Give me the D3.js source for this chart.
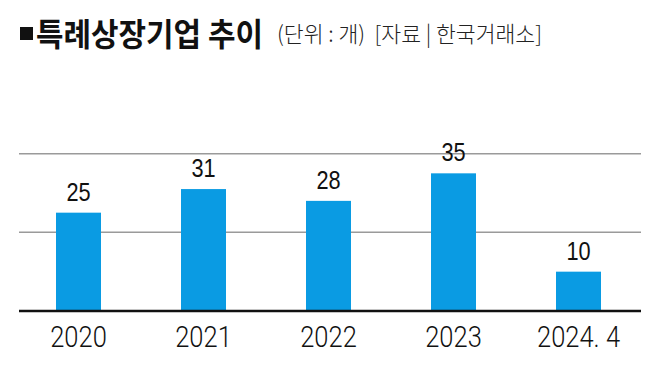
<!DOCTYPE html>
<html>
<head>
<meta charset="utf-8">
<script src="https://cdn.jsdelivr.net/npm/d3@7"></script>
<style>
  body { margin: 0; background: #fff; }
  svg { display: block; }
</style>
</head>
<body>
<div id="viz"></div>
<script>
var years = ["2020", "2021", "2022", "2023", "2024. 4"];
var counts = [25, 31, 28, 35, 10];
var gridValues = [20, 40];

var width = 658, height = 379;

var svg = d3.select("#viz")
            .append("svg")
            .attr("width", width)
            .attr("height", height);

// squeeze a text element horizontally (the original uses a condensed face)
function condense(sel, k) {
  sel.each(function() {
    var w = this.getComputedTextLength();
    d3.select(this)
      .attr("textLength", w * k)
      .attr("lengthAdjust", "spacingAndGlyphs");
  });
}

// title
svg.append("rect")
    .attr("x", 20)
    .attr("y", 27)
    .attr("width", 13)
    .attr("height", 13)
    .attr("fill", "#111");

svg.append("text")
    .attr("x", 36)
    .attr("y", 46)
    .attr("font-size", "32px")
    .attr("font-weight", 700)
    .attr("fill", "#111")
    .style("white-space", "pre")
    .style("font-family", "'Noto Sans CJK KR', sans-serif")
    .text("특례상장기업 추이")
    .attr("textLength", 227)
    .attr("lengthAdjust", "spacingAndGlyphs");

svg.append("text")
    .attr("x", 277)
    .attr("y", 42)
    .attr("font-size", "22px")
    .attr("font-weight", 300)
    .attr("fill", "#222")
    .style("white-space", "pre")
    .style("font-family", "'Noto Sans CJK KR', sans-serif")
    .text("(단위 : 개)  [자료 | 한국거래소]")
    .attr("textLength", 265)
    .attr("lengthAdjust", "spacingAndGlyphs");

var x = d3.scaleBand()
    .domain(years)
    .range([16, 641])
    .paddingInner(0.64)
    .paddingOuter(0.32);

var y = d3.scaleLinear()
    .domain([0, 45])
    .range([311, 134]);

// gridlines
svg.append("g")
  .selectAll("line")
  .data(gridValues)
  .enter()
  .append("line")
    .attr("x1", 19)
    .attr("x2", 641)
    .attr("y1", function(d) { return y(d); })
    .attr("y2", function(d) { return y(d); })
    .attr("stroke", "#9a9a9a")
    .attr("stroke-width", 1.5);

// bars
svg.append("g")
  .selectAll("rect")
  .data(counts)
  .enter()
  .append("rect")
    .attr("x", function(d, i) { return x(years[i]); })
    .attr("y", function(d) { return y(d); })
    .attr("width", x.bandwidth())
    .attr("height", function(d) { return y(0) - y(d); })
    .attr("fill", "#0a9be3");

// value labels
svg.append("g")
  .selectAll("text")
  .data(counts)
  .enter()
  .append("text")
    .attr("x", function(d, i) { return x(years[i]) + x.bandwidth() / 2; })
    .attr("y", function(d) { return y(d) - 12; })
    .attr("text-anchor", "middle")
    .attr("font-size", "25px")
    .style("font-family", "'Liberation Sans', Arial, sans-serif")
    .attr("fill", "#111")
    .text(function(d) { return d; })
    .call(condense, 0.87);

// x axis
var xAxis = svg.append("g")
    .attr("transform", "translate(0," + y(0) + ")")
    .call(d3.axisBottom(x).tickSize(0).tickPadding(10));

xAxis.select(".domain").remove();
xAxis.append("line")
    .attr("x1", 19)
    .attr("x2", 641)
    .attr("stroke", "#111")
    .attr("stroke-width", 2.5);

xAxis.selectAll(".tick text")
    .attr("y", 36)
    .attr("dy", 0)
    .attr("font-size", "30px")
    .attr("font-weight", 300)
    .attr("fill", "#111")
    .style("font-family", "Roboto, 'Liberation Sans', sans-serif")
    .call(condense, 0.85);
</script>
</body>
</html>
